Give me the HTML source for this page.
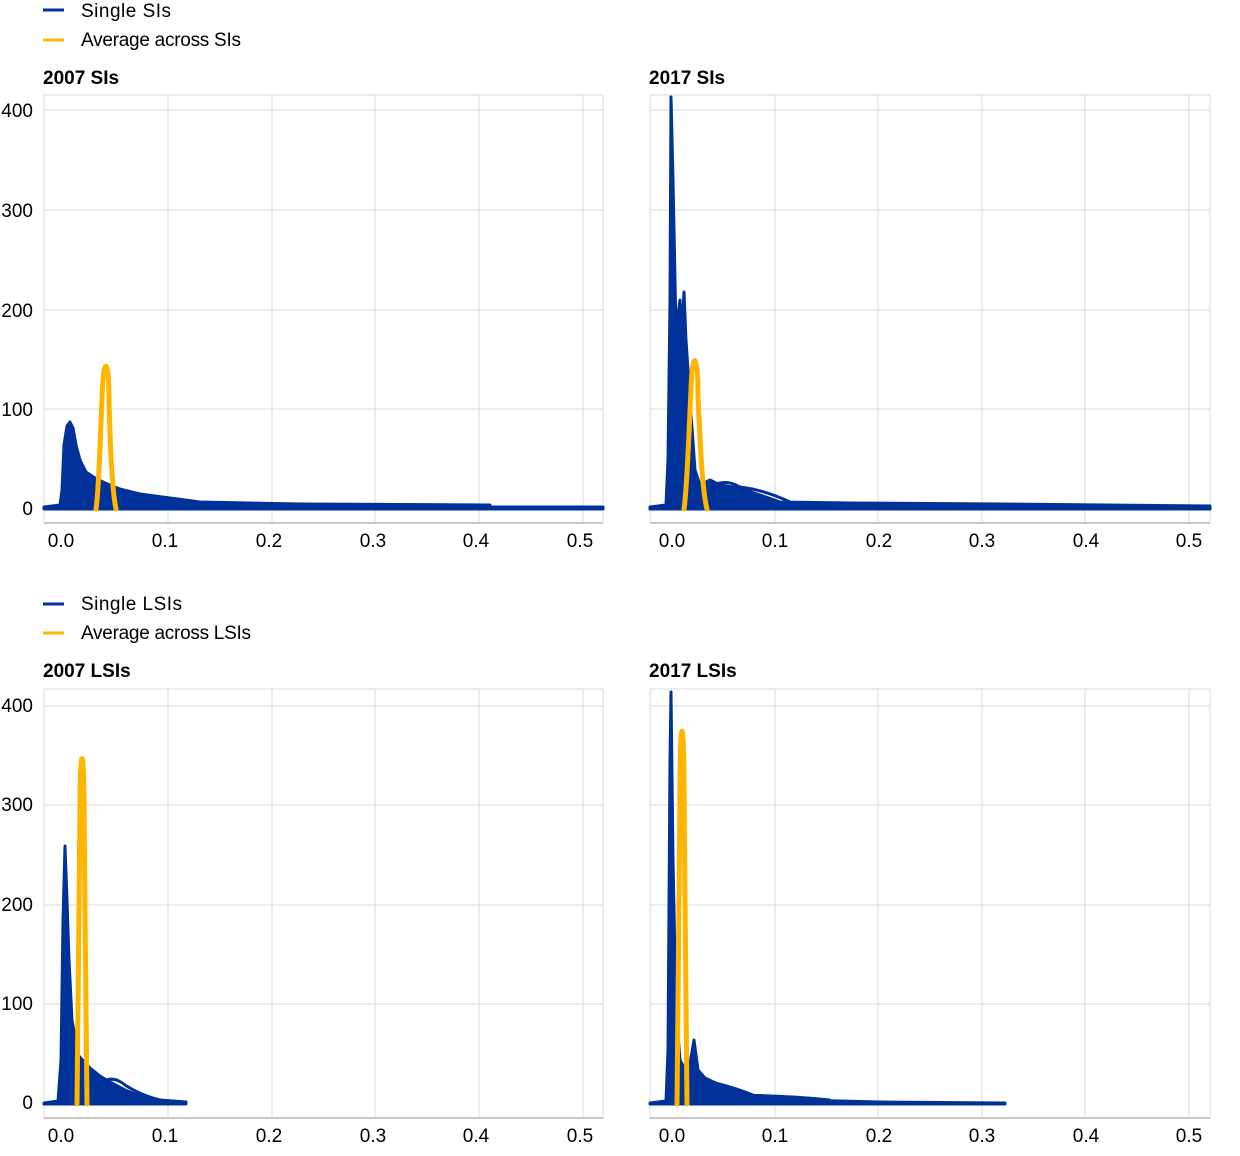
<!DOCTYPE html>
<html><head><style>
body{margin:0;background:#fff;}
svg text{font-family:"Liberation Sans",Arial,sans-serif;}
</style></head><body>
<svg width="1240" height="1151" xmlns="http://www.w3.org/2000/svg">
<g font-size="19" fill="#000">
<line x1="43" y1="10" x2="64" y2="10" stroke="#003299" stroke-width="3"/>
<text x="81" y="17" textLength="90">Single SIs</text>
<line x1="43" y1="40" x2="64" y2="40" stroke="#ffb400" stroke-width="3"/>
<text x="81" y="46" textLength="160">Average across SIs</text>
<line x1="43" y1="604" x2="64" y2="604" stroke="#003299" stroke-width="3"/>
<text x="81" y="610" textLength="101">Single LSIs</text>
<line x1="43" y1="633" x2="64" y2="633" stroke="#ffb400" stroke-width="3"/>
<text x="81" y="639" textLength="170">Average across LSIs</text>
<text x="43" y="84" font-weight="bold">2007 SIs</text>
<text x="649" y="84" font-weight="bold">2017 SIs</text>
<text x="43" y="677" font-weight="bold">2007 LSIs</text>
<text x="649" y="677" font-weight="bold">2017 LSIs</text>
</g>

<g stroke="#d9d9d9" stroke-width="1" fill="none">
<rect x="44" y="95" width="559" height="428"/>
<rect x="650" y="95" width="560" height="428"/>
<rect x="44" y="689" width="559" height="429"/>
<rect x="650" y="689" width="560" height="429"/>
<path d="M44 110H603M44 210H603M44 310H603M44 409H603M168 95V523M272 95V523M375 95V523M479 95V523M583 95V523"/>
<path d="M650 110H1210M650 210H1210M650 310H1210M650 409H1210M775 95V523M878 95V523M982 95V523M1085 95V523M1189 95V523"/>
<path d="M44 706H603M44 805H603M44 905H603M44 1004H603M168 689V1118M272 689V1118M375 689V1118M479 689V1118M583 689V1118"/>
<path d="M650 706H1210M650 805H1210M650 905H1210M650 1004H1210M775 689V1118M878 689V1118M982 689V1118M1085 689V1118M1189 689V1118"/>
</g>
<g stroke="#c8c8c8" stroke-width="2">
<line x1="44" y1="523" x2="603" y2="523"/><line x1="650" y1="523" x2="1210" y2="523"/>
<line x1="44" y1="1118" x2="603" y2="1118"/><line x1="650" y1="1118" x2="1210" y2="1118"/>
</g>

<g font-size="19" fill="#000" text-anchor="end">
<text x="33" y="117">400</text><text x="33" y="217">300</text><text x="33" y="317">200</text><text x="33" y="416">100</text><text x="33" y="515">0</text>
<text x="33" y="712">400</text><text x="33" y="811">300</text><text x="33" y="911">200</text><text x="33" y="1010">100</text><text x="33" y="1109">0</text>
</g>
<g font-size="19" fill="#000" text-anchor="middle">
<text x="61" y="547">0.0</text><text x="165" y="547">0.1</text><text x="269" y="547">0.2</text><text x="373" y="547">0.3</text><text x="476" y="547">0.4</text><text x="580" y="547">0.5</text>
<text x="672" y="547">0.0</text><text x="775" y="547">0.1</text><text x="879" y="547">0.2</text><text x="982" y="547">0.3</text><text x="1086" y="547">0.4</text><text x="1189" y="547">0.5</text>
<text x="61" y="1142">0.0</text><text x="165" y="1142">0.1</text><text x="269" y="1142">0.2</text><text x="373" y="1142">0.3</text><text x="476" y="1142">0.4</text><text x="580" y="1142">0.5</text>
<text x="672" y="1142">0.0</text><text x="775" y="1142">0.1</text><text x="879" y="1142">0.2</text><text x="982" y="1142">0.3</text><text x="1086" y="1142">0.4</text><text x="1189" y="1142">0.5</text>
</g>

<g stroke="#003299" stroke-width="3" stroke-linejoin="round">
<path fill="#003299" d="M44 507 L60 505 L62 490 L64 445 L67 426 L70 422 L73 428 L76 445 L80 460 L86 472 L95 478 L105 483 L120 489 L140 494 L170 498 L200 502 L300 504 L490 505 L490 507 L603 507 L603 509 L44 509Z"/>
<path fill="#003299" d="M650 507 L666 505 L668 460 L670 300 L671 97 L673 180 L676 330 L680 300 L682 330 L684 292 L686 340 L690 400 L695 470 L700 485 L710 480 L720 485 L740 488 L760 495 L780 502 L850 503 L1000 504 L1210 506 L1210 509 L650 509Z"/>
<path fill="none" d="M700 495 Q720 475 740 487 Q765 490 790 502"/>
<path fill="#003299" d="M44 1103 L58 1101 L61 1060 L63 920 L65 846 L67 900 L69 960 L72 1020 L78 1055 L90 1068 L100 1076 L110 1082 L125 1090 L140 1096 L160 1100 L186 1102 L186 1104 L44 1104Z"/>
<path fill="none" d="M95 1088 Q110 1072 125 1085 Q145 1098 170 1102"/>
<path fill="#003299" d="M650 1103 L666 1101 L668 1050 L670 760 L671 692 L673 860 L676 1010 L680 1060 L688 1075 L694 1040 L698 1070 L705 1078 L720 1085 L740 1092 L760 1097 L800 1100 L880 1102 L1005 1103 L1005 1104 L650 1104Z"/>
<path fill="none" d="M700 1080 Q730 1085 760 1098 M720 1095 Q780 1095 830 1100"/>
</g>
<g fill="none" stroke="#ffb400" stroke-width="5" stroke-linejoin="round" stroke-linecap="round">
<path d="M96 509 C99 490 100 440 102 400 C103 355 109 355 109 400 C110 440 112 490 116 509"/>
<path d="M684 509 C687 490 689 430 691 390 C692 350 698 350 698 395 C700 440 702 490 707 509"/>
<path d="M77 1104 C78 1040 79 900 80 800 C80.5 745 83.5 745 84 800 C85 900 86 1040 87 1104"/>
<path d="M677 1104 C678 1040 679 900 680 780 C680.5 715 683.5 715 684 780 C685 900 686 1040 687 1104"/>
</g>
</svg>
</body></html>
